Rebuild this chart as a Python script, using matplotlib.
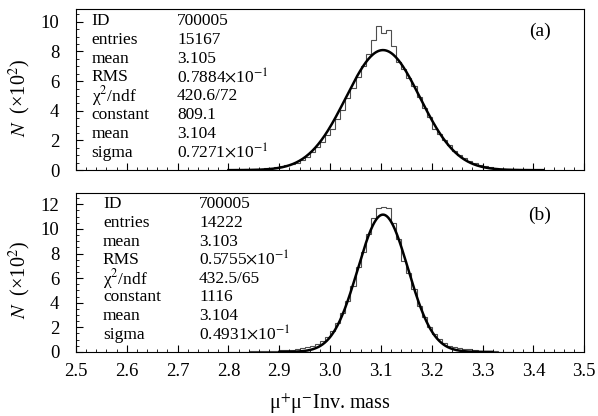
import numpy as np
import matplotlib
matplotlib.use('Agg')
import matplotlib.pyplot as plt
from matplotlib.ticker import MultipleLocator

plt.rcParams['font.family'] = ['Liberation Serif', 'DejaVu Serif']
plt.rcParams['mathtext.fontset'] = 'stix'

# histogram bins (width 0.01), first bin starts at 2.80; counts in units of 10^2
bin_lo = 2.80
bin_w = 0.01

counts_a = [0.02, 0.03, 0.03, 0.05, 0.05, 0.07, 0.09, 0.12, 0.15, 0.22,
            0.30, 0.36, 0.42, 0.50, 0.68, 0.90, 1.22, 1.55, 1.92, 2.40,
            2.75, 3.45, 4.05, 4.85, 5.55, 6.30, 7.05, 7.85, 8.75, 9.70,
            9.25, 9.45, 8.40, 7.30, 6.85, 6.20, 5.65, 4.90, 4.20, 3.55,
            2.75, 2.45, 2.05, 1.70, 1.32, 1.02, 0.80, 0.62, 0.46, 0.36,
            0.28, 0.20, 0.15, 0.11, 0.08, 0.06, 0.05, 0.04, 0.03, 0.02,
            0.02]

counts_b = [0.02, 0.02, 0.03, 0.03, 0.04, 0.04, 0.05, 0.06, 0.08, 0.10,
            0.12, 0.15, 0.18, 0.25, 0.35, 0.42, 0.50, 0.62, 0.88, 1.25,
            1.70, 2.35, 3.15, 4.15, 5.35, 6.90, 8.10, 9.55, 10.85, 11.70,
            11.75, 11.70, 10.50, 9.20, 7.40, 6.45, 5.10, 3.70, 2.85, 2.05,
            1.45, 1.05, 0.72, 0.50, 0.40, 0.32, 0.25, 0.20, 0.14, 0.10,
            0.08, 0.06, 0.04, 0.03, 0.03, 0.02]

# gaussian fit parameters (constant in counts, converted to 10^2)
fit_a = dict(constant=809.1, mean=3.104, sigma=0.07271)
fit_b = dict(constant=1116.0, mean=3.104, sigma=0.04931)

stat_names = ['ID', 'entries', 'mean', 'RMS', 'χ$^2$/ndf', 'constant', 'mean', 'sigma']
stat_vals_a = ['700005', '15167', '3.105', '0.7884$\\times$10$^{-1}$', '420.6/72',
               '809.1', '3.104', '0.7271$\\times$10$^{-1}$']
stat_vals_b = ['700005', '14222', '3.103', '0.5755$\\times$10$^{-1}$', '432.5/65',
               '1116', '3.104', '0.4931$\\times$10$^{-1}$']

fig = plt.figure(figsize=(5.98, 4.16), dpi=100)
ax1 = fig.add_axes([0.127, 0.591, 0.850, 0.387])
ax2 = fig.add_axes([0.127, 0.154, 0.850, 0.383])

panels = [
    (ax1, counts_a, fit_a, stat_vals_a, 10.85, (0.031, 0.199), '(a)', (2.80, 3.42)),
    (ax2, counts_b, fit_b, stat_vals_b, 12.95, (0.053, 0.242), '(b)', (2.90, 3.32)),
]

for ax, counts, fit, vals, ymax, (xn, xv), tag, frange in panels:
    edges = bin_lo + bin_w * np.arange(len(counts) + 1)
    ax.stairs(counts, edges, color='0.3', lw=0.8)
    xs = np.linspace(frange[0], frange[1], 400)
    ys = fit['constant'] / 100 * np.exp(-0.5 * ((xs - fit['mean']) / fit['sigma']) ** 2)
    ax.plot(xs, ys, color='black', lw=1.8)

    ax.set_xlim(2.5, 3.5)
    ax.set_ylim(0, ymax)
    ax.xaxis.set_major_locator(MultipleLocator(0.1))
    ax.xaxis.set_minor_locator(MultipleLocator(0.02))
    ax.yaxis.set_major_locator(MultipleLocator(2))
    ax.yaxis.set_minor_locator(MultipleLocator(0.5))
    ax.tick_params(which='both', direction='in', top=False, right=False, labelsize=13.5)
    ax.tick_params(axis='y', which='major', pad=12)
    ax.tick_params(axis='x', which='major', pad=8)
    ax.tick_params(which='major', length=5, width=0.8)
    ax.tick_params(which='minor', length=2.5, width=0.6)
    for s in ax.spines.values():
        s.set_linewidth(0.8)

    for i, (n, v) in enumerate(zip(stat_names, vals)):
        y = 0.927 - i * 0.117
        ax.text(xn, y, n, transform=ax.transAxes, fontsize=12.5, va='center', ha='left')
        ax.text(xv, y, v, transform=ax.transAxes, fontsize=12.5, va='center', ha='left')
    ax.text(0.913, 0.86, tag, transform=ax.transAxes, fontsize=14, va='center', ha='center')

    ax.set_ylabel('$N$  (×10$^2$)', fontsize=14.5)
    ax.yaxis.set_label_coords(-0.085, 0.45)

ax1.tick_params(labelbottom=False)
ax2.set_xticks(np.arange(2.5, 3.51, 0.1))
ax2.set_xticklabels(['%.1f' % t for t in np.arange(2.5, 3.51, 0.1)])
ax2.set_xlabel('μ$^{+}$μ$^{-}$Inv. mass', fontsize=14.5, labelpad=8)

fig.savefig('out.png', dpi=100)
